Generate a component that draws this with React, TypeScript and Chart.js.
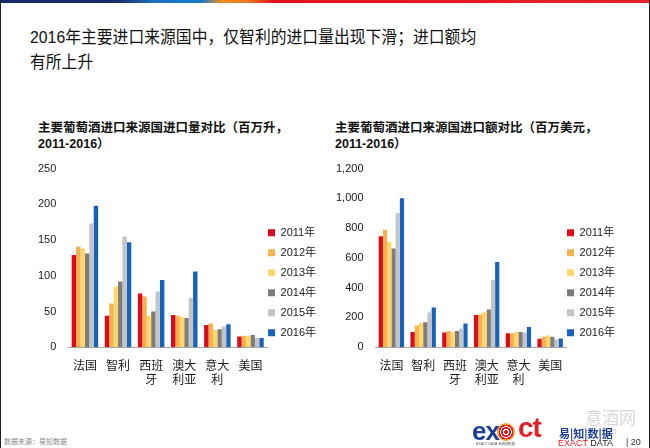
import React, { useEffect, useRef } from "react";
import { Chart, registerables } from "chart.js";

Chart.register(...registerables);

// ---- data ----
const categories: string[][] = [["法国"], ["智利"], ["西班", "牙"], ["澳大", "利亚"], ["意大", "利"], ["美国"]];
const years = ["2011年", "2012年", "2013年", "2014年", "2015年", "2016年"];
const yearColors = ["#dc0a1a", "#f6b24e", "#fdd66c", "#7d7d7d", "#c4c4c4", "#1763bb"];

// import volume, million litres (per year, by country)
const volume2011 = [129, 44, 75, 45, 31, 15];
const volume2012 = [141, 61, 71, 44, 33, 16];
const volume2013 = [138, 85, 44, 42, 24, 16];
const volume2014 = [131, 92, 50, 41, 25, 17];
const volume2015 = [173, 155, 78, 69, 29, 13];
const volume2016 = [198, 147, 94, 106, 32, 13];

// import value, million USD (per year, by country)
const value2011 = [746, 102, 98, 217, 93, 57];
const value2012 = [789, 146, 109, 222, 93, 70];
const value2013 = [707, 163, 104, 237, 104, 78];
const value2014 = [663, 167, 109, 254, 102, 70];
const value2015 = [902, 233, 126, 452, 98, 54];
const value2016 = [1000, 267, 159, 572, 135, 59];

const volumeSeries = [volume2011, volume2012, volume2013, volume2014, volume2015, volume2016];
const valueSeries = [value2011, value2012, value2013, value2014, value2015, value2016];

const volumeTicks = { max: 250, step: 50 };
const valueTicks = { max: 1200, step: 200 };

const FONT = "'Liberation Sans', 'Noto Sans CJK SC', Arial, sans-serif";

// moves the legend next to the plot and aligns its bottom with the x axis
const legendShift = {
  id: "legendShift",
  afterLayout(chart: any) {
    const lg = chart.legend;
    const s = chart.options.plugins.legendShift?.shift || 0;
    if (lg) {
      lg.left -= s;
      lg.right -= s;
      lg.bottom = chart.chartArea.bottom;
    }
  },
};

function makeConfig(series: number[][], ticks: { max: number; step: number }, padLeft: number, padRight: number) {
  return {
    type: "bar" as const,
    data: {
      labels: categories,
      datasets: years.map((y, i) => ({
        label: y,
        data: series[i],
        backgroundColor: yearColors[i],
        borderWidth: 0,
        categoryPercentage: 0.8,
        barPercentage: 1.0,
      })),
    },
    options: {
      animation: false,
      responsive: false,
      maintainAspectRatio: false,
      devicePixelRatio: 1,
      layout: { padding: { top: 15, left: padLeft, right: padRight, bottom: 0 } },
      plugins: {
        legend: {
          position: "right",
          align: "end",
          labels: {
            boxWidth: 7,
            boxHeight: 7,
            padding: 9,
            color: "#1a1a1a",
            font: { family: FONT, size: 11 },
          },
        },
        tooltip: { enabled: false },
        legendShift: { shift: 8 },
      },
      scales: {
        x: {
          grid: { display: false, drawTicks: false },
          border: { display: true, color: "#a6a6a6", width: 1 },
          ticks: {
            color: "#1a1a1a",
            font: { family: FONT, size: 12 },
            maxRotation: 0,
            autoSkip: false,
            padding: 12,
          },
        },
        y: {
          min: 0,
          max: ticks.max,
          grid: { display: false, drawTicks: false },
          border: { display: false },
          ticks: {
            stepSize: ticks.step,
            color: "#1a1a1a",
            font: { family: FONT, size: 11 },
            padding: 12,
          },
        },
      },
    },
    plugins: [legendShift],
  };
}

function BarChart(props: { series: number[][]; ticks: { max: number; step: number }; style: React.CSSProperties; w: number; h: number; padLeft: number; padRight: number }) {
  const ref = useRef<HTMLCanvasElement | null>(null);
  useEffect(() => {
    if (!ref.current) return;
    const chart = new Chart(ref.current, makeConfig(props.series, props.ticks, props.padLeft, props.padRight) as any);
    return () => chart.destroy();
  }, []);
  return <canvas ref={ref} width={props.w} height={props.h} style={{ position: "absolute", width: props.w, height: props.h, ...props.style }} />;
}

export default function App() {
  const abs: React.CSSProperties = { position: "absolute", margin: 0, whiteSpace: "nowrap" };
  return (
    <div style={{ position: "fixed", left: 0, top: 0, width: 650, height: 448, background: "#fff", overflow: "hidden", fontFamily: FONT }}>
      {/* top colour band */}
      <div
        style={{
          ...abs,
          left: 0,
          top: 0,
          width: 650,
          height: 3,
          background:
            "linear-gradient(100deg, #1c2a6b 0%, #1c2a6b 18%, #1a74bf 24%, #1a78c2 31%, #f08a24 34%, #ee7a22 38%, #e2131d 42%, #e8202a 100%)",
        }}
      />
      <div style={{ ...abs, left: 0, top: 0, width: 1, height: 448, background: "#222" }} />
      <div style={{ ...abs, right: 0, top: 0, width: 1, height: 448, background: "#222" }} />

      {/* slide title */}
      <div
        style={{
          ...abs,
          left: 30,
          top: 25,
          fontSize: 17,
          lineHeight: "25px",
          color: "#111",
          transform: "scaleX(0.93)",
          transformOrigin: "0 0",
        }}
      >
        2016年主要进口来源国中，仅智利的进口量出现下滑；进口额均
        <br />
        有所上升
      </div>

      {/* chart titles */}
      <div style={{ ...abs, left: 38, top: 120, fontSize: 12.5, fontWeight: "bold", lineHeight: "16px", color: "#111" }}>
        主要葡萄酒进口来源国进口量对比（百万升，
        <br />
        2011-2016）
      </div>
      <div style={{ ...abs, left: 335, top: 120, fontSize: 12.5, fontWeight: "bold", lineHeight: "16px", color: "#111" }}>
        主要葡萄酒进口来源国进口额对比（百万美元，
        <br />
        2011-2016）
      </div>

      <BarChart series={volumeSeries} ticks={volumeTicks} style={{ left: 20, top: 150 }} w={316} h={250} padLeft={6} padRight={2} />
      <BarChart series={valueSeries} ticks={valueTicks} style={{ left: 323, top: 150 }} w={314} h={250} padLeft={1} padRight={4} />

      {/* footer */}
      <div style={{ ...abs, left: 4, top: 436, fontSize: 7, color: "#8a8a8a" }}>数据来源：易知数据</div>

      <div style={{ ...abs, left: 585, top: 404, fontSize: 17, color: "#d8d8d8", fontFamily: "'Noto Sans CJK SC', sans-serif" }}>意酒网</div>
      <div style={{ ...abs, left: 598, top: 426, fontSize: 10, color: "#d8d8d8" }}>com</div>

      <div style={{ ...abs, left: 472, top: 418, fontSize: 26, fontWeight: "bold", color: "#1f3f94", letterSpacing: -1, lineHeight: "26px" }}>ex</div>
      <div
        style={{
          ...abs,
          left: 497,
          top: 423,
          width: 18,
          height: 18,
          borderRadius: 9,
          background: "radial-gradient(circle, #e2202a 0 2px, #fff 2px 3px, #e2202a 3px 5px, #fff 5px 6px, #e2202a 6px 7.5px, #f4a11d 7.5px 9px)",
        }}
      />
      <div style={{ ...abs, left: 518, top: 414, fontSize: 28, fontWeight: "bold", color: "#e2202a", letterSpacing: -1, lineHeight: "28px" }}>ct</div>
      <div style={{ ...abs, left: 476, top: 441, fontSize: 3.5, color: "#555" }}>EXACT DATA 易|知|数|据</div>

      <div style={{ ...abs, left: 559, top: 425, fontSize: 11, fontWeight: "bold", color: "#1f3f94", fontFamily: "'Noto Sans CJK SC', sans-serif" }}>易|知|数|据</div>
      <div style={{ ...abs, left: 558, top: 438, fontSize: 9, color: "#1f1f1f" }}>
        <span style={{ color: "#e2202a" }}>EXACT</span> DATA
      </div>
      <div style={{ ...abs, left: 626, top: 437, fontSize: 9, color: "#333" }}>| 20</div>
    </div>
  );
}
